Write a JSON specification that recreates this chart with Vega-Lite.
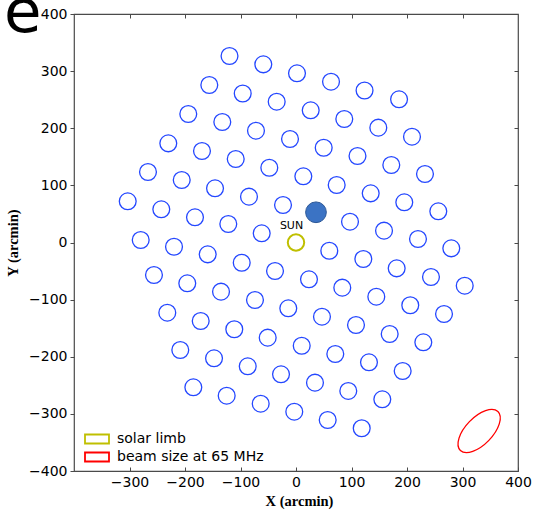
{
  "$schema": "https://vega.github.io/schema/vega-lite/v6.json",
  "width": 444,
  "height": 457,
  "autosize": "none",
  "padding": {"left": 74, "top": 14, "right": 20, "bottom": 39},
  "background": "white",
  "title": {
    "text": "e",
    "font": "DejaVu Sans",
    "fontSize": 61,
    "fontWeight": "normal",
    "color": "black",
    "anchor": "start",
    "frame": "group",
    "baseline": "alphabetic",
    "offset": 0,
    "dx": -70,
    "dy": 86
  },
  "datasets": {
    "beams": [
      {"x": -119.8, "y": 326.5}, {"x": -58.9, "y": 311.9}, {"x": 1.8, "y": 296.2}, {"x": 63.1, "y": 281.5}, {"x": 123.5, "y": 266.1}, {"x": 185.7, "y": 250.7},
      {"x": -156.2, "y": 275.7}, {"x": -96.0, "y": 260.8}, {"x": -34.8, "y": 246.5}, {"x": 26.5, "y": 231.4}, {"x": 87.0, "y": 216.2}, {"x": 148.3, "y": 201.0}, {"x": 209.0, "y": 185.2},
      {"x": -194.1, "y": 224.9}, {"x": -132.8, "y": 210.9}, {"x": -72.1, "y": 195.7}, {"x": -10.8, "y": 181.2}, {"x": 49.9, "y": 165.9}, {"x": 110.8, "y": 151.4}, {"x": 171.7, "y": 135.7}, {"x": 232.4, "y": 119.9},
      {"x": -230.1, "y": 173.6}, {"x": -169.4, "y": 160.2}, {"x": -108.6, "y": 146.2}, {"x": -48.1, "y": 130.9}, {"x": 13.2, "y": 115.9}, {"x": 73.3, "y": 100.7}, {"x": 134.6, "y": 86.1}, {"x": 195.1, "y": 70.4}, {"x": 256.4, "y": 54.6},
      {"x": -266.7, "y": 123.4}, {"x": -205.9, "y": 109.4}, {"x": -145.9, "y": 94.9}, {"x": -84.7, "y": 80.2}, {"x": -23.4, "y": 65.6}, {"x": 97.3, "y": 36.4}, {"x": 158.6, "y": 20.7}, {"x": 219.8, "y": 6.1}, {"x": 279.8, "y": -10.2},
      {"x": -303.2, "y": 72.1}, {"x": -242.7, "y": 58.1}, {"x": -182.0, "y": 44.1}, {"x": -122.0, "y": 32.4}, {"x": -61.8, "y": 16.1}, {"x": 60.0, "y": -14.4}, {"x": 121.3, "y": -28.9}, {"x": 181.4, "y": -45.2}, {"x": 243.2, "y": -60.4}, {"x": 304.0, "y": -75.6},
      {"x": -279.8, "y": 4.4}, {"x": -219.8, "y": -7.4}, {"x": -159.1, "y": -20.7}, {"x": -97.8, "y": -35.4}, {"x": -37.8, "y": -49.9}, {"x": 23.4, "y": -64.4}, {"x": 83.4, "y": -79.1}, {"x": 144.7, "y": -94.9}, {"x": 205.9, "y": -109.9}, {"x": 266.7, "y": -125.2},
      {"x": -255.9, "y": -56.9}, {"x": -195.9, "y": -71.4}, {"x": -135.1, "y": -86.1}, {"x": -73.9, "y": -100.7}, {"x": -13.9, "y": -115.2}, {"x": 46.8, "y": -129.9}, {"x": 108.1, "y": -144.4}, {"x": 168.8, "y": -160.2}, {"x": 229.4, "y": -174.7},
      {"x": -231.9, "y": -122.9}, {"x": -171.7, "y": -137.4}, {"x": -111.2, "y": -151.9}, {"x": -51.0, "y": -166.6}, {"x": 10.3, "y": -180.7}, {"x": 70.8, "y": -195.2}, {"x": 131.5, "y": -209.7}, {"x": 192.2, "y": -224.9},
      {"x": -208.5, "y": -188.2}, {"x": -147.7, "y": -202.7}, {"x": -87.0, "y": -216.7}, {"x": -27.0, "y": -230.7}, {"x": 34.2, "y": -245.4}, {"x": 94.2, "y": -259.9}, {"x": 155.5, "y": -274.5},
      {"x": -185.0, "y": -253.5}, {"x": -124.9, "y": -268.2}, {"x": -63.6, "y": -282.2}, {"x": -3.1, "y": -296.2}, {"x": 57.1, "y": -310.7}, {"x": 118.4, "y": -325.2}
    ],
    "target": [{"x": 36.0, "y": 52.9}],
    "sun": [{"name": "solar limb", "label": "SUN", "x": 0, "y": 0}],
    "beamsize": [{"name": "beam size at 65 MHz", "x": 330, "y": -330}]
  },
  "config": {
    "view": {"stroke": "#4a4a4a", "strokeWidth": 1.2},
    "axis": {
      "grid": false,
      "domain": false,
      "labelFont": "DejaVu Sans",
      "labelFontSize": 14,
      "labelColor": "black",
      "labelFlush": false,
      "labelOverlap": false,
      "tickColor": "#4a4a4a",
      "tickWidth": 1,
      "titleFont": "Liberation Serif",
      "titleFontWeight": "bold",
      "titleFontSize": 14.5,
      "titleColor": "black"
    },
    "legend": {
      "orient": "none",
      "legendX": 16,
      "legendY": 418,
      "padding": 0,
      "labelFont": "DejaVu Sans",
      "labelFontSize": 14,
      "labelColor": "black",
      "labelOffset": 13,
      "rowPadding": 0,
      "symbolType": "M -2.4 -0.9 L 2.4 -0.9 L 2.4 0.9 L -2.4 0.9 Z",
      "symbolSize": 100,
      "symbolStrokeWidth": 1.8,
      "symbolFillColor": "transparent"
    }
  },
  "resolve": {"axis": {"x": "independent", "y": "independent"}},
  "layer": [
    {
      "data": {"name": "beams"},
      "mark": {"type": "point", "shape": "circle", "filled": false, "size": 283, "stroke": "#2447ff", "strokeWidth": 1.3, "opacity": 1},
      "encoding": {
        "x": {
          "field": "x", "type": "quantitative",
          "scale": {"domain": [-400, 400], "nice": false, "zero": false},
          "axis": {
            "orient": "bottom",
            "values": [-300, -200, -100, 0, 100, 200, 300, 400],
            "tickSize": -4,
            "labelPadding": 8,
            "title": "X (arcmin)",
            "titleX": 225,
            "titleY": 34,
            "titleBaseline": "alphabetic",
            "titleAlign": "center"
          }
        },
        "y": {
          "field": "y", "type": "quantitative",
          "scale": {"domain": [-400, 400], "nice": false, "zero": false},
          "axis": {
            "orient": "left",
            "values": [-400, -300, -200, -100, 0, 100, 200, 300, 400],
            "tickSize": 4,
            "labelPadding": 3,
            "title": "Y (arcmin)",
            "titleAngle": -90,
            "titleX": -57,
            "titleY": 228.5,
            "titleBaseline": "alphabetic",
            "titleAlign": "center"
          }
        }
      }
    },
    {
      "data": {"name": "target"},
      "mark": {"type": "point", "shape": "circle", "filled": true, "size": 430, "fill": "#3b73c4", "stroke": "#2b5797", "strokeWidth": 1, "opacity": 1},
      "encoding": {
        "x": {"field": "x", "type": "quantitative", "axis": {
          "orient": "top", "values": [-300, -200, -100, 0, 100, 200, 300], "labels": false, "tickSize": -4, "title": null}},
        "y": {"field": "y", "type": "quantitative", "axis": {
          "orient": "right", "values": [-300, -200, -100, 0, 100, 200, 300], "labels": false, "tickSize": -4, "title": null}}
      }
    },
    {
      "data": {"name": "sun"},
      "mark": {"type": "point", "shape": "circle", "filled": false, "size": 269, "strokeWidth": 2, "opacity": 1},
      "encoding": {
        "x": {"field": "x", "type": "quantitative", "axis": null},
        "y": {"field": "y", "type": "quantitative", "axis": null},
        "stroke": {
          "field": "name", "type": "nominal",
          "scale": {"domain": ["solar limb", "beam size at 65 MHz"], "range": ["#bfbf00", "#ff0000"]},
          "legend": {"title": null}
        }
      }
    },
    {
      "data": {"name": "beamsize"},
      "mark": {
        "type": "point",
        "shape": "M -1 0 A 1 0.5 0 1 1 1 0 A 1 0.5 0 1 1 -1 0 Z",
        "filled": false,
        "size": 2916,
        "angle": 314,
        "strokeWidth": 1.3,
        "opacity": 1
      },
      "encoding": {
        "x": {"field": "x", "type": "quantitative", "axis": null},
        "y": {"field": "y", "type": "quantitative", "axis": null},
        "stroke": {"field": "name", "type": "nominal", "legend": {"title": null}}
      }
    },
    {
      "data": {"name": "sun"},
      "mark": {"type": "text", "font": "DejaVu Sans", "fontSize": 11, "color": "black", "baseline": "alphabetic", "align": "center", "dx": -4.5, "dy": -14},
      "encoding": {
        "x": {"field": "x", "type": "quantitative", "axis": null},
        "y": {"field": "y", "type": "quantitative", "axis": null},
        "text": {"field": "label"}
      }
    }
  ]
}
